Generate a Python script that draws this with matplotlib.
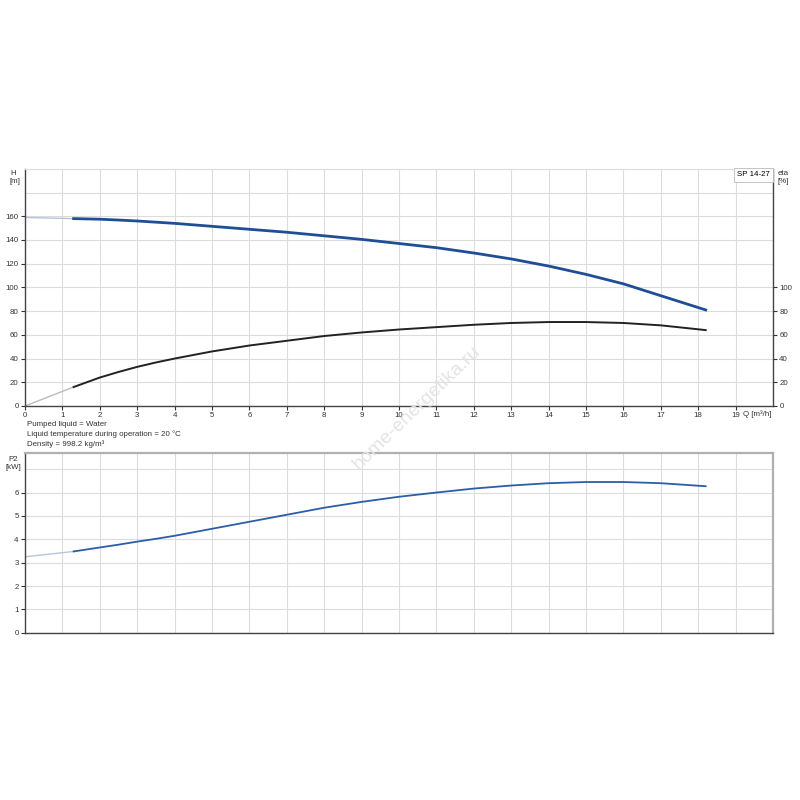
import numpy as np
import matplotlib
matplotlib.use("Agg")
import matplotlib.pyplot as plt

# данные
q_pts = [1.3, 2, 2.5, 3, 3.5, 4, 5, 6, 7, 8, 9, 10, 11, 12, 13, 14, 15, 16, 17, 18.2]
h_pts = [158, 157.5, 156.8, 156, 155, 154, 151.5, 149, 146.5, 143.5, 140.5, 137, 133.5, 129, 124, 118, 111, 103, 93, 81]
eta_pts = [16, 24, 28.7, 33, 36.7, 40, 46, 51, 55, 59, 62, 64.5, 66.5, 68.5, 70, 70.8, 70.8, 70, 68, 64]
p2_pts = [3.48, 3.65, 3.77, 3.9, 4.02, 4.15, 4.45, 4.75, 5.05, 5.35, 5.6, 5.82, 6.0, 6.17, 6.3, 6.4, 6.45, 6.45, 6.4, 6.27]

# продолжение кривых к Q=0 (серые тонкие)
q_ext = [0, 1.3]
h_ext = [159, 158]
eta_ext = [0, 16]
p2_ext = [3.25, 3.48]

q_ticks = list(range(0, 20))
h_ticks = [0, 20, 40, 60, 80, 100, 120, 140, 160]
eta_ticks = [0, 20, 40, 60, 80, 100]
p2_ticks = [0, 1, 2, 3, 4, 5, 6]

info_lines = ["Pumped liquid = Water",
              "Liquid temperature during operation = 20 °C",
              "Density = 998.2 kg/m³"]

plt.rcParams['font.family'] = ['Liberation Sans', 'DejaVu Sans']
fs = 5.7
grid_c = '#dcdcdc'
txt_c = '#333333'
blue = '#1f4e96'

fig = plt.figure(figsize=(8, 8), dpi=100)

# водяной знак (под графиками)
fig.text(0.521, 0.49, "home-energetika.ru", fontsize=14, color='#e4e4e4', rotation=44,
         ha='center', va='center', zorder=0)

# верхний график H / eta
ax = fig.add_axes([0.03125, 0.4925, 0.935, 0.2965])
ax.patch.set_alpha(0)
ax.set_xlim(0, 20)
ax.set_ylim(0, 200)
ax.set_xticks(q_ticks)
ax.set_yticks(h_ticks)
ax.grid(True, color=grid_c, lw=0.8)
ax.axvline(20 - 0.001, color=grid_c, lw=0.8)
for yy in [180, 200]:
    ax.axhline(yy, color=grid_c, lw=0.8)
ax.tick_params(labelsize=fs, length=3, width=0.8, colors=txt_c, pad=1.5)
ax.spines['top'].set_color(grid_c)
for s in ['left', 'bottom', 'right']:
    ax.spines[s].set_color('#444444')
    ax.spines[s].set_linewidth(1.0)

ax.plot(q_ext, h_ext, color='#b8c4dc', lw=1.0)
ax.plot(q_pts, h_pts, color=blue, lw=2.0, solid_joinstyle='round')
ax.plot(q_ext, eta_ext, color='#bbbbbb', lw=1.0)
ax.plot(q_pts, eta_pts, color='#222222', lw=1.4, solid_joinstyle='round')

ax2 = ax.twinx()
ax2.set_ylim(0, 200)
ax2.set_yticks(eta_ticks)
ax2.tick_params(labelsize=fs, length=3, width=0.8, colors=txt_c, pad=1.5)
for s in ax2.spines.values():
    s.set_visible(False)

fig.text(0.0125, 0.787, "H\n[m]", fontsize=fs, ha='left', va='top', color=txt_c, linespacing=1.2)
fig.text(0.972, 0.787, "eta\n[%]", fontsize=fs, ha='left', va='top', color=txt_c, linespacing=1.2)
ax.text(19.2, -4, "Q [m³/h]", fontsize=fs, ha='left', va='top', color=txt_c)
ax.text(0.996, 0.99, "SP 14-27", transform=ax.transAxes, fontsize=fs, ha='right', va='top',
        bbox=dict(facecolor='white', edgecolor='#bbbbbb', lw=0.6, pad=2.5))

for i, line in enumerate(info_lines):
    fig.text(0.034, 0.469 - i * 0.0122, line, fontsize=fs, color=txt_c, va='center')

# нижний график P2
bx = fig.add_axes([0.03125, 0.209, 0.935, 0.225])
bx.patch.set_alpha(0)
bx.set_xlim(0, 20)
bx.set_ylim(0, 7.7)
bx.set_xticks(q_ticks)
bx.set_xticklabels([])
bx.set_yticks(p2_ticks)
bx.grid(True, color=grid_c, lw=0.8)
bx.axhline(7, color=grid_c, lw=0.8)
bx.tick_params(labelsize=fs, length=3, width=0.8, colors=txt_c, pad=1.5)
bx.tick_params(axis='x', length=0)
for s in ['top', 'right']:
    bx.spines[s].set_color('#b0b0b0')
    bx.spines[s].set_linewidth(1.6)
for s in ['left', 'bottom']:
    bx.spines[s].set_color('#444444')
    bx.spines[s].set_linewidth(1.0)

bx.plot(q_ext, p2_ext, color='#b8c4dc', lw=1.0)
bx.plot(q_pts, p2_pts, color='#2a5ea6', lw=1.3, solid_joinstyle='round')

fig.text(0.026, 0.43, "P2\n[kW]", fontsize=fs, ha='right', va='top', color=txt_c,
         linespacing=1.2, multialignment='center')

fig.savefig("out.png", dpi=100)
